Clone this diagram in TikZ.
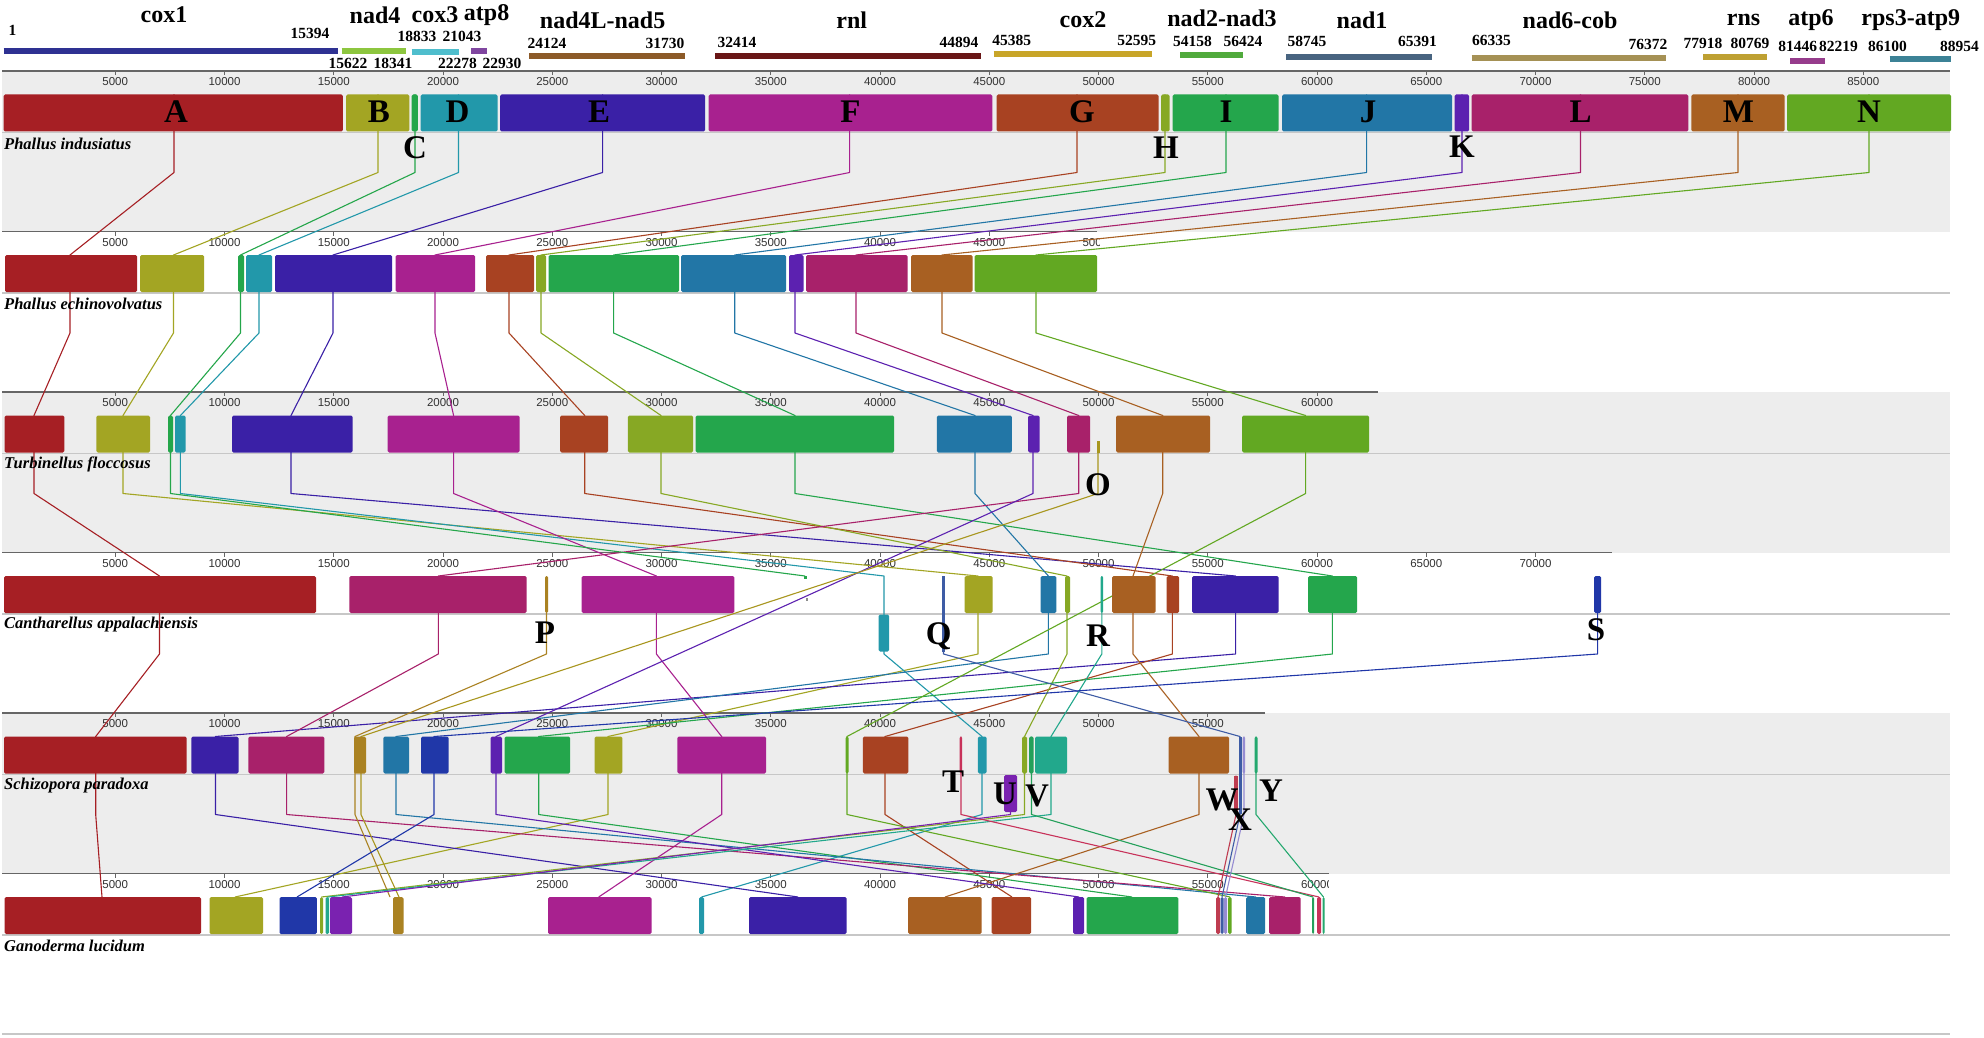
\documentclass[tikz,border=0pt]{standalone}
\usepackage{fontspec}
\setmainfont{Liberation Serif}
\newfontfamily\ticksans{Liberation Sans}
\usetikzlibrary{positioning}

\definecolor{cA}{RGB}{166,31,36}
\definecolor{cB}{RGB}{163,165,35}
\definecolor{cC}{RGB}{36,166,74}
\definecolor{cD}{RGB}{34,152,170}
\definecolor{cE}{RGB}{58,32,166}
\definecolor{cF}{RGB}{168,33,143}
\definecolor{cG}{RGB}{168,66,34}
\definecolor{cH}{RGB}{135,168,36}
\definecolor{cI}{RGB}{36,166,76}
\definecolor{cJ}{RGB}{34,118,166}
\definecolor{cK}{RGB}{92,33,176}
\definecolor{cL}{RGB}{168,33,106}
\definecolor{cM}{RGB}{168,96,34}
\definecolor{cN}{RGB}{98,168,34}
\definecolor{cO}{RGB}{168,150,30}
\definecolor{cP}{RGB}{170,130,34}
\definecolor{cQ}{RGB}{62,92,165}
\definecolor{cR}{RGB}{34,168,140}
\definecolor{cS}{RGB}{32,55,168}
\definecolor{cT}{RGB}{200,50,90}
\definecolor{cU}{RGB}{122,34,176}
\definecolor{cV}{RGB}{36,160,90}
\definecolor{cW}{RGB}{190,60,80}
\definecolor{cX}{RGB}{150,140,210}
\definecolor{cY}{RGB}{36,168,110}
\definecolor{gcoxa}{RGB}{46,49,146}
\definecolor{gnadf}{RGB}{141,198,63}
\definecolor{gcoxc}{RGB}{79,190,205}
\definecolor{gatpe}{RGB}{128,70,160}
\definecolor{gnadl}{RGB}{140,90,40}
\definecolor{grnl}{RGB}{105,22,22}
\definecolor{gcoxb}{RGB}{200,165,40}
\definecolor{gnadb}{RGB}{80,170,60}
\definecolor{gnada}{RGB}{72,100,128}
\definecolor{gcob}{RGB}{165,145,85}
\definecolor{grns}{RGB}{190,160,50}
\definecolor{gatpf}{RGB}{150,60,140}
\definecolor{grps}{RGB}{60,130,150}

\tikzset{genome/.style={font=\bfseries\itshape\fontsize{16.5}{17}\selectfont,anchor=west,inner sep=0pt},
        lcbletter/.style={font=\bfseries\fontsize{33}{33}\selectfont,inner sep=0pt},
        genename/.style={font=\bfseries\fontsize{24}{24}\selectfont,inner sep=0pt},
        genepos/.style={font=\bfseries\fontsize{15.5}{16}\selectfont,inner sep=0pt},
        ticklabel/.style={font=\ticksans\fontsize{11.5}{12}\selectfont,inner sep=0pt,text=black!80},
        ruler/.style={draw=black!60,line width=1.4pt},
        blockline/.style={draw=black!22,line width=1.5pt},
        panelbg/.style={fill=black!7},
        lcb/.style={line width=1.1pt,line join=round},
        genebar/.style={line width=6pt}}

\newcommand{\lcbbox}[4]{\fill[fill=#4,rounded corners=1.5pt] (#1,#3) rectangle (#2,{#3+37});}
\newcommand{\route}[7]{\draw[lcb,draw=#1] (#2,94.5)--(#2,172.5)--(#3,255)--(#3,333)--(#4,415.5)--(#4,493.5)
   --(#5,576)--(#5,654)--(#6,736.5)--(#6,814.5)--(#7,897);}

\begin{document}
\begin{tikzpicture}[x=1pt,y=-1pt]
\useasboundingbox[fill=white] (0,0) rectangle (1984,1038);

% panels
\fill[panelbg] (2,71) rectangle (1950,231.5);
\fill[panelbg] (2,392) rectangle (1950,552.5);
\fill[panelbg] (2,713) rectangle (1950,873.5);
\foreach \k in {0,...,5}{
  \pgfmathsetmacro{\by}{71+160.5*\k+61.5}
  \draw[blockline] (2,\by) -- (1950,\by);
}
\draw[blockline] (2,1034) -- (1950,1034);

\foreach \k/\len/\last in {0/1950/85, 1/1097/45, 2/1377.6/60, 3/1611.7/70, 4/1265/55, 5/1329/55}{
  \pgfmathsetmacro{\ry}{71+160.5*\k}
  \draw[ruler] (2,\ry) -- (\len,\ry);
  \foreach \t in {5,10,...,\last}{
    \pgfmathsetmacro{\tx}{6+21.85*\t}
    \draw[black!60,line width=0.8pt] (\tx,\ry) -- (\tx,{\ry+4});
    \node[ticklabel] (t\k-\t) at (\tx,{\ry+11}) {\t000};
  }
}
\begin{scope}
  \clip (1080,235) rectangle (1099,252);
  \node[ticklabel] (t1-50) at (1098.5,242.5) {50000};
\end{scope}
\begin{scope}
  \clip (1300,878) rectangle (1328,892);
  \node[ticklabel] (t5-60) at (1317,884.5) {60000};
\end{scope}

% connecting lines
\route{cA}{174}{70}{34}{159.5}{95.7}{102}
\route{cB}{378}{173.5}{123}{978}{608}{235}
\route{cD}{458.5}{259}{180.4}{884}{982}{701.5}
\route{cE}{602.6}{333}{291}{1235.6}{215.5}{798}
\route{cF}{849.6}{435}{453.6}{656.4}{721.7}{598.7}
\route{cG}{1077}{509}{584.7}{1172.4}{885}{1012}
\route{cH}{1165}{541}{661}{1067}{1024.5}{321.5}
\route{cI}{1226}{613.6}{795}{1332.4}{538.7}{1132}
\route{cJ}{1366.6}{734.7}{975}{1048.4}{396}{1256}
\route{cL}{1580.5}{856}{1078.7}{438.3}{286.6}{1285}
\route{cM}{1738}{942}{1162.7}{1133}{1199}{945}
\draw[lcb,draw=cC] (415,94.5)--(415,172.5)--(240.5,255)--(240.5,333)--(170.5,415.5)--(170.5,493.5)--(805,576);
\draw[lcb,draw=cK] (1462,94.5)--(1462,172.5)--(795,255)--(795,333)--(1033,415.5)--(1033,493.5)
   --(496,736.5)--(496,814.5)--(1079,897);
\draw[lcb,draw=cN] (1869,94.5)--(1869,172.5)--(1036,255)--(1036,333)--(1305.6,415.5)--(1305.6,493.5)
   --(847,736.5)--(847,814.5)--(1230,897);
\draw[lcb,draw=cO] (1098,441)--(1098,493.5)--(361,736.5)--(361,814.5)--(399,897);
\draw[lcb,draw=cP] (546.5,576)--(546.5,654)--(355,736.5)--(355,814.5)--(390,897);
\draw[lcb,draw=cQ] (943.5,576)--(943.5,654)--(1240,736.5)--(1240,814.5)--(1222,897);
\draw[lcb,draw=cR] (1101.8,576)--(1101.8,654)--(1051,736.5)--(1051,814.5)--(328,897);
\draw[lcb,draw=cS] (1597.6,576)--(1597.6,654)--(434,736.5)--(434,814.5)--(297,897);
\draw[lcb,draw=cT] (961,736.5)--(961,814.5)--(1319,897);
\draw[lcb,draw=cU] (1010.5,775.5)--(1010.5,814.5)--(342,897);
\draw[lcb,draw=cV] (1031.5,736.5)--(1031.5,814.5)--(1313,897);
\draw[lcb,draw=cW] (1236,775.5)--(1236,814.5)--(1218,897);
\draw[lcb,draw=cX] (1244,736.5)--(1244,814.5)--(1225.5,897);
\draw[lcb,draw=cY] (1256,736.5)--(1256,814.5)--(1323.5,897);

% blocks
\foreach \xa/\xb/\c in {3.6/342.8/cA, 346/409.4/cB, 411.6/417.8/cC, 420.5/497.7/cD, 500/705/cE,
    708.6/992.3/cF, 996.5/1158.6/cG, 1161/1169.5/cH, 1172.5/1278.5/cI, 1282/1452/cJ,
    1454.7/1469/cK, 1471.6/1688.4/cL, 1691.4/1784.6/cM, 1787/1951/cN}
  {\lcbbox{\xa}{\xb}{94.5}{\c}}
\foreach \xa/\xb/\c in {5/137/cA, 140/204/cB, 238/244/cC, 246/272/cD, 275/392/cE, 395.5/475/cF,
    486/534/cG, 536/546/cH, 548.5/679/cI, 681/786/cJ, 789/803.6/cK, 806/907.6/cL,
    911/972.6/cM, 974.5/1097/cN}
  {\lcbbox{\xa}{\xb}{255}{\c}}
\foreach \xa/\xb/\c in {4.5/64.3/cA, 96.4/150/cB, 168/173/cC, 175/185.7/cD, 232/352.7/cE,
    387.6/519.7/cF, 560/608/cG, 627.8/693/cH, 695.6/894/cI, 936.8/1011.8/cJ, 1028/1039.5/cK,
    1067/1090/cL, 1116/1210/cM, 1242/1369/cN}
  {\lcbbox{\xa}{\xb}{415.5}{\c}}
\fill[cO] (1096.5,441) rectangle (1099.5,452.5);
\foreach \xa/\xb/\c in {4/316/cA, 349.4/526.7/cL, 545/548/cP, 581.5/734.3/cF,
    964.7/992.5/cB, 1040.6/1056.3/cJ, 1065/1070/cH, 1100.5/1103/cR, 1112/1155.6/cM,
    1166.6/1179/cG, 1192/1278.5/cE, 1308/1357/cI, 1594/1601/cS}
  {\lcbbox{\xa}{\xb}{576}{\c}}
\fill[cC] (804,576) rectangle (806.5,579);
\fill[black!45] (806,598) rectangle (808,600.5);
\lcbbox{878.5}{889}{614.5}{cD}
\fill[cQ] (942,576) rectangle (945,651.5);
\foreach \xa/\xb/\c in {4/186.7/cA, 191.4/238.5/cE, 248.4/324.3/cL, 354/366/cP, 383.4/409/cJ,
    421/448.7/cS, 490.6/502/cK, 504.7/570/cI, 594.7/622.4/cB, 677.3/766.2/cF, 845.5/848.6/cN,
    862.8/908.3/cG, 959.5/962/cT, 977.8/986.7/cD, 1022/1027/cH, 1029/1033.5/cV,
    1035/1067/cR, 1168.7/1229/cM, 1242.5/1245/cX, 1254.5/1257.5/cY}
  {\lcbbox{\xa}{\xb}{736.5}{\c}}
\lcbbox{1004}{1017}{775}{cU}
\fill[cW] (1234,775.5) rectangle (1237.5,812);
\fill[cQ] (1238.5,736.5) rectangle (1242,814);
\foreach \xa/\xb/\c in {4.6/201/cA, 209.5/263/cB, 279.5/316.8/cS, 320/323/cH,
    325.5/329/cR, 330/352/cU, 393/403.5/cP, 548/651.5/cF, 699/704/cD, 749/846.7/cE,
    908/981.7/cM, 991.7/1031/cG, 1073/1084/cK, 1086.7/1178.3/cI, 1216/1220/cW, 1220.5/1223.5/cQ,
    1224/1227/cX, 1228/1231.7/cN, 1246/1265/cJ, 1269/1300.7/cL, 1312/1314/cV, 1317/1321/cT,
    1322.5/1324.5/cY}
  {\lcbbox{\xa}{\xb}{897}{\c}}

% genome names and block letters
\foreach \k/\nm in {0/Phallus indusiatus, 1/Phallus echinovolvatus, 2/Turbinellus floccosus,
    3/Cantharellus appalachiensis, 4/Schizopora paradoxa, 5/Ganoderma lucidum}{
  \pgfmathsetmacro{\sy}{143.5+160.5*\k}
  \node[genome] (sp\k) at (4,\sy) {\nm};
}
\foreach \n/\x/\y in {A/176/112, B/379/112, C/415/148, D/457.6/112, E/599/112, F/850.5/112,
    G/1082/112, H/1166/148, I/1226/112, J/1368/112, K/1462/147, L/1580.5/112, M/1738.4/112,
    N/1869/112, O/1098/485, P/545/633, Q/938.6/636, R/1098/636, S/1596/630, T/953/782,
    U/1005/794, V/1037/796, W/1222/800, X/1240/820, Y/1271/791}
  {\node[lcbletter] (l\n) at (\x,\y) {\n};}

% gene map
\foreach \xa/\xb/\y/\c in {3.6/338.4/51/gcoxa, 341.5/406/51/gnadf, 411.6/459/52/gcoxc,
    471/486.6/51/gatpe, 529/685/56/gnadl, 715/981/56/grnl, 993.6/1152/54/gcoxb,
    1180/1242.7/55/gnadb, 1286/1432/57/gnada, 1471.6/1666.4/58/gcob, 1703/1766.8/57/grns,
    1790/1824.8/61/gatpf, 1889.6/1951/59/grps}
  {\draw[genebar,draw=\c] (\xa,\y) -- (\xb,\y);}
\foreach \nm/\x/\y in {cox1/164/15, nad4/375/15, cox3/435/15, atp8/486.6/15,
    nad4L-nad5/602.6/20, rnl/851.7/20, cox2/1083/20, nad2-nad3/1222/18.3, nad1/1362/20,
    nad6-cob/1570/20, rns/1743.5/20, atp6/1811/20, rps3-atp9/1910.8/20}
  {\node[genename] (g-\nm) at (\x,\y) {\nm};}
\foreach \v/\x/\y in {1/12.5/30, 15394/310/33, 15622/348/63, 18341/393/63, 18833/417/36,
    21043/462/36, 22278/457.6/63, 22930/502/63, 24124/547/43, 31730/665/43, 32414/737/42.7,
    44894/959/42.7, 45385/1011.7/40, 52595/1136.7/40, 54158/1192.6/41, 56424/1243/41,
    58745/1307/41.7, 65391/1417.4/41.7, 66335/1491.5/40, 76372/1648/44, 77918/1703/43.3,
    80769/1750/43.3, 81446/1797.7/46.7, 82219/1838.5/46.7, 86100/1887.5/46.7, 88954/1959.5/46.7}
  {\node[genepos] (n\v) at (\x,\y) {\v};}
\end{tikzpicture}
\end{document}
